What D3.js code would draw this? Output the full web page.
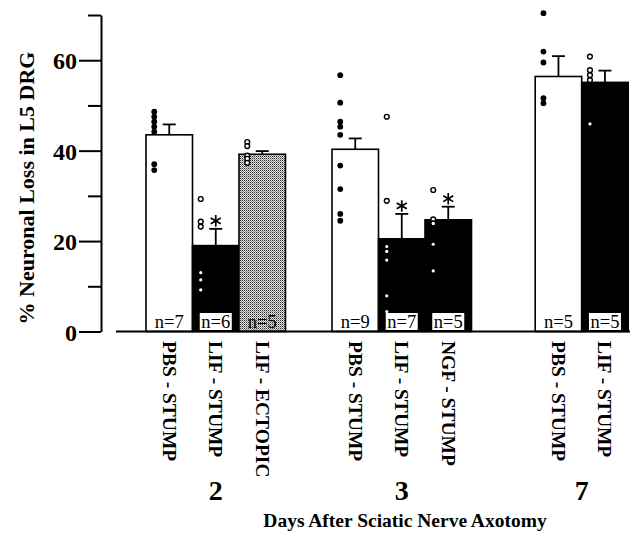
<!DOCTYPE html>
<html>
<head>
<meta charset="utf-8">
<script src="https://cdn.jsdelivr.net/npm/d3@7"></script>
<style>
  html, body { margin: 0; padding: 0; background: #fff; }
  svg { display: block; }
  text { font-family: "Liberation Serif", "DejaVu Serif", serif; fill: #000; }
</style>
</head>
<body>
<svg id="chart" width="637" height="539"></svg>
<script>
// ---------------- data ----------------
const days = ["2", "3", "7"];
const treatments = ["PBS - STUMP", "LIF - STUMP", "LIF - ECTOPIC",
                    "PBS - STUMP", "LIF - STUMP", "NGF - STUMP",
                    "PBS - STUMP", "LIF - STUMP"];
const barDay = ["2", "2", "2", "3", "3", "3", "7", "7"];
const meanLoss = [43.5, 19.0, 39.2, 40.3, 20.5, 24.7, 56.4, 55.1];
const errTop   = [45.8, 22.7, 39.9, 42.7, 26.0, 27.6, 60.9, 57.7];
const nCount   = [7, 6, 5, 9, 7, 5, 5, 5];
const significant = [false, true, false, false, true, true, false, false];
const individualLoss = [
  [48.6, 47.5, 46.4, 45.3, 44.2, 37.0, 35.7],
  [29.3, 24.3, 23.2, 13.0, 11.4, 9.2],
  [41.9, 41.0, 38.9, 38.2, 37.3],
  [56.7, 50.6, 46.4, 45.3, 43.5, 36.7, 31.5, 26.0, 24.5],
  [47.5, 28.9, 18.8, 17.7, 15.8, 7.9, 4.4],
  [31.3, 24.8, 23.9, 19.3, 13.4],
  [70.4, 61.9, 59.5, 51.6, 50.5],
  [60.8, 57.8, 56.7, 55.6, 45.9]
];
const yTicks = [0, 10, 20, 30, 40, 50, 60, 70];
const yTickLabels = ["0", "", "20", "", "40", "", "60", ""];
const yTitle = "% Neuronal Loss in L5 DRG";
const xTitle = "Days After Sciatic Nerve Axotomy";

// ---------------- layout ----------------
const svg = d3.select("#chart");
const groupGap = { "2": 0, "3": 1.0, "7": 1.37 };   // gap before group, in bar widths
const barW = 46.5;

const slots = [];
{
  let s = 0, prev = null;
  barDay.forEach(d => {
    if (d !== prev) { s += groupGap[d]; prev = d; }
    slots.push(s);
    s += 1;
  });
}
const x = d3.scaleLinear().domain([0, 1]).range([146, 146 + barW]);
const y = d3.scaleLinear().domain([0, 70]).range([331.5, 15]);

const fillFor = t => t.startsWith("PBS") ? "white" : (t.includes("ECTOPIC") ? "url(#stip)" : "black");
const kindFor = t => t.startsWith("PBS") ? "white" : (t.includes("ECTOPIC") ? "stip" : "black");

// stipple pattern
const defs = svg.append("defs");
const pat = defs.append("pattern").attr("id", "stip")
  .attr("width", 2).attr("height", 2).attr("patternUnits", "userSpaceOnUse");
pat.append("rect").attr("width", 2).attr("height", 2).attr("fill", "#e6e6e6");
pat.append("rect").attr("x", 0).attr("y", 0).attr("width", 1).attr("height", 1).attr("fill", "#262626");
pat.append("rect").attr("x", 1).attr("y", 1).attr("width", 1).attr("height", 1).attr("fill", "#8a8a8a");

// ---------------- y axis ----------------
const yAxis = d3.axisLeft(y).tickValues(yTicks).tickSize(13).tickSizeOuter(0)
  .tickFormat((d, i) => yTickLabels[i]);
const ga = svg.append("g").attr("transform", "translate(101,0)").call(yAxis);
ga.select(".domain").attr("stroke", "#000").attr("stroke-width", 2);
ga.selectAll(".tick line").attr("stroke", "#000").attr("stroke-width", 2)
  .attr("x2", (d, i) => yTickLabels[i] ? -22 : -13);
ga.selectAll(".tick text")
  .attr("x", -24).attr("dy", "0.36em")
  .style("font-family", "'Liberation Serif', serif")
  .style("font-weight", "bold").style("font-size", "24px");

svg.append("text")
  .attr("transform", "translate(34,188) rotate(-90)")
  .attr("text-anchor", "middle")
  .style("font-weight", "bold").style("font-size", "22px")
  .text(yTitle);

// ---------------- bars ----------------
const bars = treatments.map((t, i) => ({
  t, i, day: barDay[i], mean: meanLoss[i], err: errTop[i], n: nCount[i],
  sig: significant[i], pts: individualLoss[i],
  x0: x(slots[i]), x1: x(slots[i] + 1)
}));
bars.forEach(b => { b.cx = (b.x0 + b.x1) / 2; });

svg.append("g").selectAll("rect").data(bars).join("rect")
  .attr("x", d => d.x0).attr("width", d => d.x1 - d.x0)
  .attr("y", d => y(d.mean)).attr("height", d => y(0) - y(d.mean))
  .attr("fill", d => fillFor(d.t))
  .attr("stroke", "#000").attr("stroke-width", 1.6);

// error bars
const eg = svg.append("g").attr("stroke", "#000").attr("stroke-width", 1.8);
bars.forEach(b => {
  eg.append("line").attr("x1", b.cx).attr("x2", b.cx)
    .attr("y1", y(b.mean)).attr("y2", y(b.err));
  eg.append("line").attr("x1", b.cx - 6.5).attr("x2", b.cx + 6.5)
    .attr("y1", y(b.err)).attr("y2", y(b.err));
});

// asterisks
const ast = d3.symbol().type(d3.symbolAsterisk).size(95);
svg.append("g").selectAll("path").data(bars.filter(b => b.sig)).join("path")
  .attr("d", ast)
  .attr("transform", d => `translate(${d.cx},${y(d.err) - 8})`)
  .attr("fill", "none").attr("stroke", "#000").attr("stroke-width", 1.7);

// individual points
const pg = svg.append("g");
bars.forEach(b => {
  const k = kindFor(b.t);
  const px = b.cx - 15;
  b.pts.forEach(v => {
    const c = pg.append("circle").attr("cx", px).attr("cy", y(v));
    if (k === "white") {
      c.attr("r", 2.9).attr("fill", "#000");
    } else if (k === "stip" || v >= b.mean - 1) {
      c.attr("r", 2.4).attr("fill", "#fff").attr("stroke", "#000").attr("stroke-width", 1.4);
    } else {
      c.attr("r", 1.6).attr("fill", "#fff");
    }
  });
});

// n labels
bars.forEach(b => {
  const k = kindFor(b.t);
  if (k === "black") {
    svg.append("rect").attr("x", b.cx - 16).attr("y", 313)
      .attr("width", 32).attr("height", 17).attr("fill", "#fff");
  }
  svg.append("text").attr("x", b.cx).attr("y", 328)
    .attr("text-anchor", "middle").style("font-size", "18.5px")
    .text("n=" + b.n);
});

// baseline
svg.append("line").attr("x1", 116).attr("x2", 630)
  .attr("y1", y(0)).attr("y2", y(0))
  .attr("stroke", "#000").attr("stroke-width", 2);

// category labels (rotated)
svg.append("g").selectAll("text").data(bars).join("text")
  .attr("transform", d => `translate(${d.cx},341) rotate(90)`)
  .attr("dy", "0.34em")
  .style("font-weight", "bold").style("font-size", "19.5px")
  .text(d => d.t);

// day labels
days.forEach(d => {
  const g = bars.filter(b => b.day === d);
  const cx = (g[0].x0 + g[g.length - 1].x1) / 2;
  svg.append("text").attr("x", cx).attr("y", 500)
    .attr("text-anchor", "middle")
    .style("font-weight", "bold").style("font-size", "28px")
    .text(d);
});

svg.append("text").attr("x", 405).attr("y", 527)
  .attr("text-anchor", "middle")
  .style("font-weight", "bold").style("font-size", "19.5px")
  .text(xTitle);
</script>
</body>
</html>
